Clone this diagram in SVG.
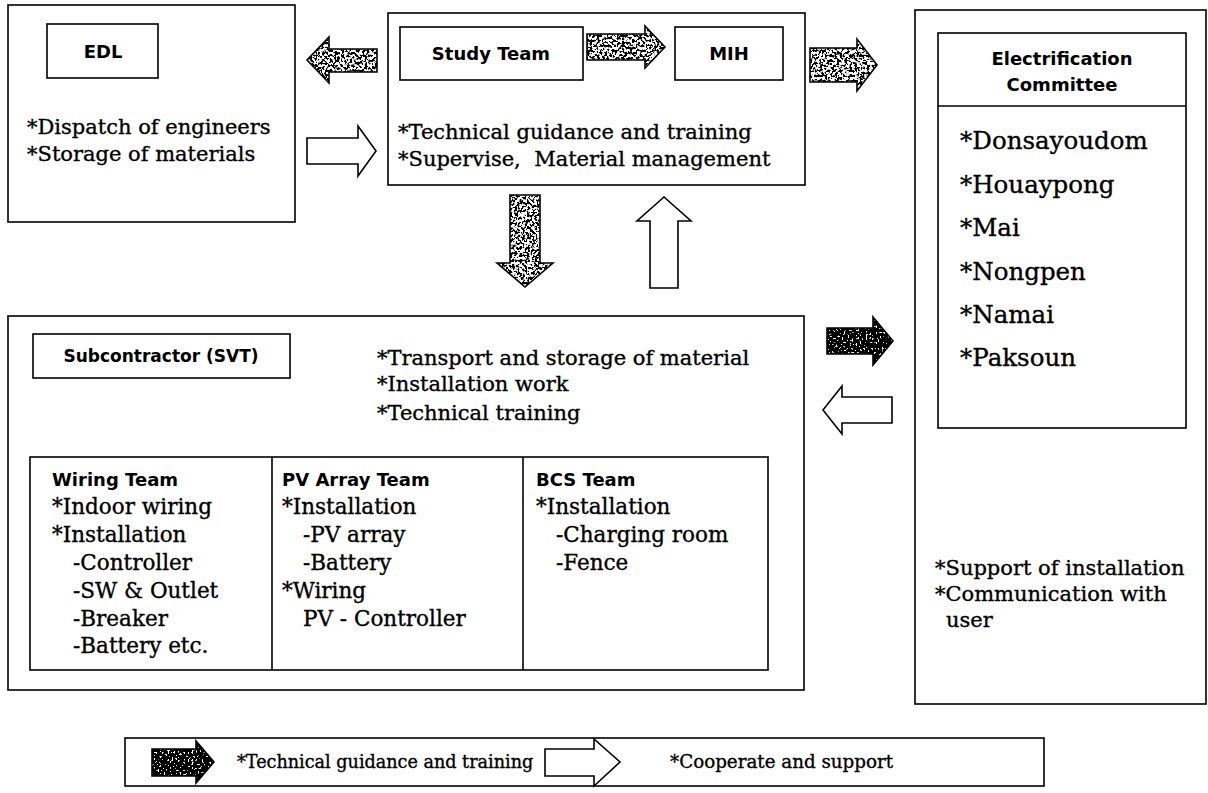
<svg xmlns="http://www.w3.org/2000/svg" width="1208" height="793" viewBox="0 0 1208 793">
<defs>
<style>
.box{fill:none;stroke:#000;stroke-width:1.6}
.lbl{font-family:"DejaVu Sans","Liberation Sans",sans-serif;font-weight:bold;font-size:18px;fill:#000}
.ser{font-family:"DejaVu Serif","Liberation Serif",serif;font-size:21px;fill:#000;stroke:#000;stroke-width:0.35}
.tm{font-size:21.5px}
.lst{font-family:"DejaVu Serif","Liberation Serif",serif;font-size:24.5px;fill:#000;stroke:#000;stroke-width:0.35}
.lg{font-size:17.6px}
.lg2{font-size:18.3px}
.wa{fill:#fff;stroke:#000;stroke-width:1.6;stroke-linejoin:miter}
.ga{fill:#000;filter:url(#spkG)}
.ba{fill:#000;filter:url(#spkB)}
.ol{fill:none;stroke:#000;stroke-width:1.6}
</style>
<filter id="spkG" x="-5%" y="-5%" width="110%" height="110%">
<feTurbulence type="fractalNoise" baseFrequency="0.4" numOctaves="2" seed="5" result="n"/>
<feColorMatrix in="n" type="matrix" values="0 0 0 0 1  0 0 0 0 1  0 0 0 0 1  14 0 0 0 -6.5" result="w"/>
<feComposite in="w" in2="SourceAlpha" operator="in" result="wi"/>
<feMerge><feMergeNode in="SourceGraphic"/><feMergeNode in="wi"/></feMerge>
</filter>
<filter id="spkB" x="-5%" y="-5%" width="110%" height="110%">
<feTurbulence type="fractalNoise" baseFrequency="0.5" numOctaves="2" seed="9" result="n"/>
<feColorMatrix in="n" type="matrix" values="0 0 0 0 1  0 0 0 0 1  0 0 0 0 1  14 0 0 0 -8.6" result="w"/>
<feComposite in="w" in2="SourceAlpha" operator="in" result="wi"/>
<feMerge><feMergeNode in="SourceGraphic"/><feMergeNode in="wi"/></feMerge>
</filter>
</defs>
<rect width="1208" height="793" fill="#fff"/>

<g id="edl">
<rect class="box" x="8" y="5" width="287" height="217"/>
<rect class="box" x="47" y="24" width="111" height="54"/>
<text class="lbl" x="103" y="58" text-anchor="middle">EDL</text>
<text class="ser" x="27" y="134">*Dispatch of engineers</text>
<text class="ser" x="27" y="161">*Storage of materials</text>
</g>

<g id="study">
<rect class="box" x="388" y="13" width="417" height="172"/>
<rect class="box" x="400" y="27" width="183" height="53"/>
<text class="lbl" x="491" y="60" text-anchor="middle">Study Team</text>
<rect class="box" x="675" y="27" width="108" height="53"/>
<text class="lbl" x="729" y="60" text-anchor="middle">MIH</text>
<text class="ser" x="398" y="139">*Technical guidance and training</text>
<text class="ser" x="398" y="166" xml:space="preserve">*Supervise,  Material management</text>
</g>

<g id="committee">
<rect class="box" x="915" y="10" width="291" height="694"/>
<rect class="box" x="938" y="33" width="248" height="395"/>
<line class="box" x1="938" y1="106" x2="1186" y2="106"/>
<text class="lbl" x="1062" y="65" text-anchor="middle">Electrification</text>
<text class="lbl" x="1062" y="91" text-anchor="middle">Committee</text>
<text class="lst" x="960" y="149">*Donsayoudom</text>
<text class="lst" x="960" y="193">*Houaypong</text>
<text class="lst" x="960" y="236">*Mai</text>
<text class="lst" x="960" y="280">*Nongpen</text>
<text class="lst" x="960" y="323">*Namai</text>
<text class="lst" x="960" y="366">*Paksoun</text>
<text class="ser" x="935" y="575">*Support of installation</text>
<text class="ser" x="935" y="601">*Communication with</text>
<text class="ser" x="946" y="627">user</text>
</g>

<g id="subcontractor">
<rect class="box" x="8" y="316" width="796" height="374"/>
<rect class="box" x="33" y="334" width="257" height="44"/>
<text class="lbl" x="161" y="362" text-anchor="middle" style="font-size:17px">Subcontractor (SVT)</text>
<text class="ser" x="377" y="365">*Transport and storage of material</text>
<text class="ser" x="377" y="391">*Installation work</text>
<text class="ser" x="377" y="420">*Technical training</text>
</g>

<g id="teams">
<rect class="box" x="30" y="457" width="738" height="213"/>
<line class="box" x1="272" y1="457" x2="272" y2="670"/>
<line class="box" x1="523" y1="457" x2="523" y2="670"/>
</g>
<g id="wiring-team">
<text class="lbl" x="52" y="486">Wiring Team</text>
<text class="ser tm" x="52" y="514">*Indoor wiring</text>
<text class="ser tm" x="52" y="542">*Installation</text>
<text class="ser tm" x="73" y="570">-Controller</text>
<text class="ser tm" x="73" y="598">-SW &amp; Outlet</text>
<text class="ser tm" x="73" y="626">-Breaker</text>
<text class="ser tm" x="73" y="653">-Battery etc.</text>
</g>
<g id="pv-array-team">
<text class="lbl" x="282" y="486">PV Array Team</text>
<text class="ser tm" x="282" y="514">*Installation</text>
<text class="ser tm" x="303" y="542">-PV array</text>
<text class="ser tm" x="303" y="570">-Battery</text>
<text class="ser tm" x="282" y="598">*Wiring</text>
<text class="ser tm" x="303" y="626">PV - Controller</text>
</g>
<g id="bcs-team">
<text class="lbl" x="536" y="486">BCS Team</text>
<text class="ser tm" x="536" y="514">*Installation</text>
<text class="ser tm" x="556" y="542">-Charging room</text>
<text class="ser tm" x="556" y="570">-Fence</text>
</g>

<g id="connectors">
<path class="ga" d="M377 49 L329 49 L329 37 L307 60 L329 83 L329 72 L377 72 Z"/>
<path class="ol" d="M377 49 L329 49 L329 37 L307 60 L329 83 L329 72 L377 72 Z"/>
<path class="wa" d="M307 138 L358 138 L358 126 L376 151 L358 176 L358 164 L307 164 Z"/>
<path class="ga" d="M587 34 L645 34 L645 26 L665 47 L645 68 L645 60 L587 60 Z"/>
<path class="ol" d="M587 34 L645 34 L645 26 L665 47 L645 68 L645 60 L587 60 Z"/>
<path class="ga" d="M810 48 L857 48 L857 39 L877 65 L857 91 L857 82 L810 82 Z"/>
<path class="ol" d="M810 48 L857 48 L857 39 L877 65 L857 91 L857 82 L810 82 Z"/>
<path class="ga" d="M510 195 L540 195 L540 263 L553 263 L525 287 L497 263 L510 263 Z"/>
<path class="ol" d="M510 195 L540 195 L540 263 L553 263 L525 287 L497 263 L510 263 Z"/>
<path class="wa" d="M650 288 L650 221 L637 221 L664 197 L691 221 L678 221 L678 288 Z"/>
<path class="ba" d="M827 328 L873 328 L873 317 L893 341 L873 365 L873 354 L827 354 Z"/>
<path class="ol" d="M827 328 L873 328 L873 317 L893 341 L873 365 L873 354 L827 354 Z"/>
<path class="wa" d="M892 397 L842 397 L842 386 L823 410 L842 434 L842 423 L892 423 Z"/>
</g>

<g id="legend">
<rect class="box" x="125" y="738" width="919" height="48"/>
<path class="ba" d="M152 749 L196 749 L196 741 L214 762 L196 783 L196 776 L152 776 Z"/>
<path class="ol" d="M152 749 L196 749 L196 741 L214 762 L196 783 L196 776 L152 776 Z"/>
<text class="ser lg" x="237" y="768">*Technical guidance and training</text>
<path class="wa" d="M545 749 L594 749 L594 739 L620 762 L594 786 L594 776 L545 776 Z"/>
<text class="ser lg2" x="670" y="768">*Cooperate and support</text>
</g>
</svg>
